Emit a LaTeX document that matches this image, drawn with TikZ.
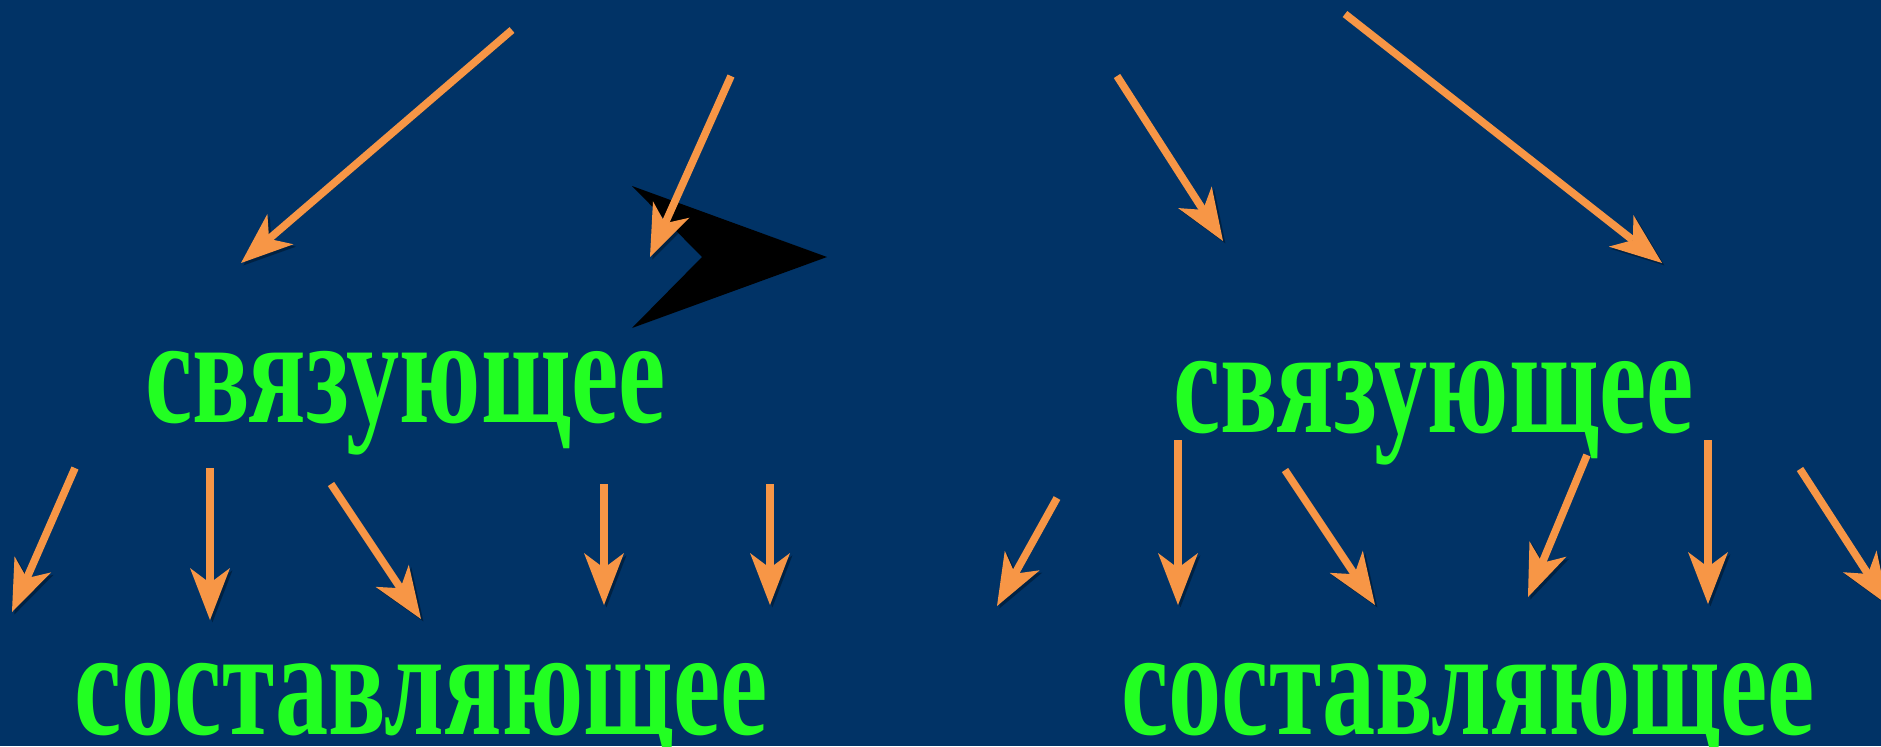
\documentclass[tikz,border=0pt]{standalone}
\usepackage{fontspec}
\setmainfont{Liberation Serif}
\usetikzlibrary{arrows.meta}
\definecolor{bgblue}{RGB}{1,51,102}
\definecolor{txtgreen}{RGB}{34,255,34}
\definecolor{arrorange}{RGB}{247,150,70}
\tikzset{
  arr/.style={draw=arrorange, line width=3.8pt,
    -{Stealth[length=26pt,width=20pt,inset=7.5pt,line width=0pt]},
    preaction={draw=black, opacity=.35, transform canvas={xshift=1.2pt,yshift=-1.2pt}}},
  word/.style={anchor=base west, inner sep=0pt, text=txtgreen,
    font=\fontsize{54}{60}\selectfont\bfseries}
}
\newcommand{\tallword}[1]{\scalebox{0.985}[1.4]{#1}}
\begin{document}
\begin{tikzpicture}[x=0.5pt,y=-0.5pt]
\fill[bgblue] (0,0) rectangle (1881,746);
\useasboundingbox (0,0) rectangle (1881,746);
% black lightning shape
\fill[black] (632,186) -- (827,257) -- (632,328) -- (702,257) -- cycle;
% texts
\node[word] (s1) at (145,422) {\tallword{связующее}};
\node[word] (s2) at (1173,432) {\tallword{связующее}};
\node[word] (c1) at (74,734) {\tallword{составляющее}};
\node[word] (c2) at (1121,734) {\tallword{составляющее}};
% arrow end points
\coordinate (a1s) at (512,30);   \coordinate (a1e) at (241,263);
\coordinate (a2s) at (731,76);   \coordinate (a2e) at (650,257);
\coordinate (a3s) at (1117,76);  \coordinate (a3e) at (1223,241);
\coordinate (a4s) at (1345,14);  \coordinate (a4e) at (1662,263);
\coordinate (b1s) at (75,468);   \coordinate (b1e) at (12,612);
\coordinate (b2s) at (210,468);  \coordinate (b2e) at (210,620);
\coordinate (b3s) at (331,484);  \coordinate (b3e) at (421,619);
\coordinate (b4s) at (604,484);  \coordinate (b4e) at (604,605);
\coordinate (b5s) at (770,484);  \coordinate (b5e) at (770,605);
\coordinate (b6s) at (1057,498); \coordinate (b6e) at (997,606);
\coordinate (b7s) at (1178,440); \coordinate (b7e) at (1178,605);
\coordinate (b8s) at (1285,470); \coordinate (b8e) at (1375,605);
\coordinate (b9s) at (1587,455); \coordinate (b9e) at (1528,597);
\coordinate (b10s) at (1708,440); \coordinate (b10e) at (1708,604);
\coordinate (b11s) at (1800,469); \coordinate (b11e) at (1888,605);
\foreach \p in {a1,a2,a3,a4,b1,b2,b3,b4,b5,b6,b7,b8,b9,b10,b11}
  \draw[arr] (\p s) -- (\p e);
\end{tikzpicture}
\end{document}
